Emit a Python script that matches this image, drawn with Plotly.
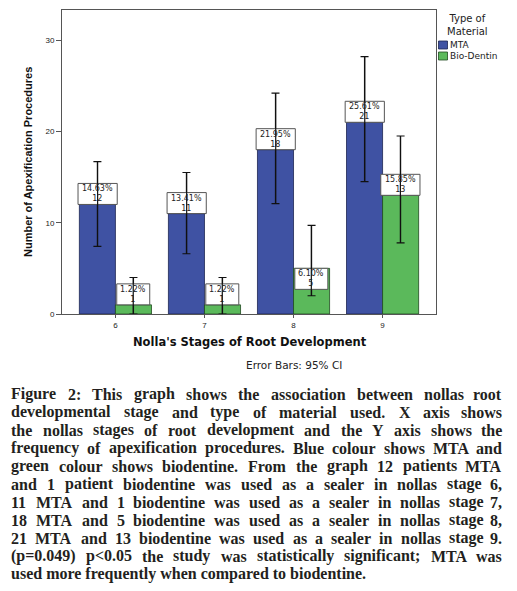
import plotly.graph_objects as go

# ---------------- data ----------------
stages = ["6", "7", "8", "9"]
mta_counts = [12, 11, 18, 21]
bio_counts = [1, 1, 5, 13]
mta_pct = ["14.63%", "13.41%", "21.95%", "25.61%"]
bio_pct = ["1.22%", "1.22%", "6.10%", "15.85%"]
mta_ci_low = [7.4, 6.6, 12.1, 14.5]
mta_ci_high = [16.7, 15.5, 24.2, 28.2]
bio_ci_low = [0.0, 0.0, 2.0, 7.8]
bio_ci_high = [4.0, 4.0, 9.7, 19.5]
y_ticks = [0, 10, 20, 30]

caption_lines = [
    "Figure 2: This graph shows the association between nollas root",
    "developmental stage and type of material used. X axis shows",
    "the nollas stages of root development and the Y axis shows the",
    "frequency of apexification procedures. Blue colour shows MTA and",
    "green colour shows biodentine. From the graph 12 patients MTA",
    "and 1 patient biodentine was used as a sealer in nollas stage 6,",
    "11 MTA and 1 biodentine was used as a sealer in nollas stage 7,",
    "18 MTA and 5 biodentine was used as a sealer in nollas stage 8,",
    "21 MTA and 13 biodentine was used as a sealer in nollas stage 9.",
    "(p=0.049) p<0.05 the study was statistically significant; MTA was",
    "used more frequently when compared to biodentine.",
]

# ---------------- geometry (page pixels; page body has an 8px margin) ----------------
OFF = 8
W, H = 517 - 2 * OFF, 591 - 2 * OFF
PL, PR, PT, PB = 62, 436, 10, 314          # plot box in page pixels
L, R, T, B = PL - OFF, PR - OFF, PT - OFF, PB - OFF

BLUE = "#3F52A3"
GREEN = "#5BB95B"
SANS = "Liberation Sans, Arial, sans-serif"
WIDE = "DejaVu Sans, sans-serif"
SERIF = "Liberation Serif, Times New Roman, serif"


def px(x):  # page x -> paper
    return (x - PL) / (PR - PL)


def py(y):  # page y -> paper
    return (PB - y) / (PB - PT)


fig = go.Figure()
fig.add_bar(
    x=stages, y=mta_counts, name="MTA",
    marker=dict(color=BLUE, line=dict(color="#1c2450", width=0.8)),
    error_y=dict(type="data", symmetric=False,
                 array=[h - v for h, v in zip(mta_ci_high, mta_counts)],
                 arrayminus=[v - l for l, v in zip(mta_ci_low, mta_counts)],
                 color="#111", thickness=1.2, width=4),
)
fig.add_bar(
    x=stages, y=bio_counts, name="Bio-Dentin",
    marker=dict(color=GREEN, line=dict(color="#1f4a1f", width=0.8)),
    error_y=dict(type="data", symmetric=False,
                 array=[h - v for h, v in zip(bio_ci_high, bio_counts)],
                 arrayminus=[v - l for l, v in zip(bio_ci_low, bio_counts)],
                 color="#111", thickness=1.2, width=4),
)

annotations = []
shapes = []
LBL_FONT = dict(family=WIDE, size=8, color="#222")


def add_label(xpos, val, pct, lo, hi, down=False):
    half = 3.1 * len(pct) + 1
    if down:
        y0, y1, s = -21, 0, -10.5
    else:
        y0, y1, s = 0, 21, 10.5
    shapes.append(dict(type="rect", xref="x", yref="y", xsizemode="pixel", ysizemode="pixel",
                       xanchor=xpos, yanchor=val, x0=-half, x1=half, y0=y0, y1=y1,
                       fillcolor="white", line=dict(color="#555", width=1)))
    # error bar line stays visible through the label box
    shapes.append(dict(type="line", xref="x", yref="y", x0=xpos, x1=xpos, y0=lo, y1=hi,
                       line=dict(color="#111", width=1.2)))
    annotations.append(dict(x=xpos, y=val, xref="x", yref="y", xanchor="center", yanchor="middle",
                            yshift=s, text=f"{pct}<br>{val}", showarrow=False, font=LBL_FONT))


for i, (c, p) in enumerate(zip(mta_counts, mta_pct)):
    add_label(i - 0.2, c, p, mta_ci_low[i], mta_ci_high[i])
for i, (c, p) in enumerate(zip(bio_counts, bio_pct)):
    add_label(i + 0.2, c, p, bio_ci_low[i], bio_ci_high[i], down=(i == 2))


def note(x, y, text, font, xanchor="center", angle=0):
    annotations.append(dict(x=px(x), y=py(y), xref="paper", yref="paper", xanchor=xanchor,
                            yanchor="middle", text=text, textangle=angle, showarrow=False,
                            font=font))


note(28, 162, "<b>Number of Apexification Procedures</b>", dict(family=SANS, size=11, color="#111"),
     angle=-90)
note(250, 342, "<b>Nolla's Stages of Root Development</b>", dict(family=WIDE, size=11.5, color="#111"))
note(294, 365, "Error Bars: 95% CI", dict(family=WIDE, size=10.5, color="#222"))

# legend (drawn manually)
note(467.5, 25, "Type of<br>Material", dict(family=WIDE, size=10, color="#222"))
note(449, 45, "MTA", dict(family=WIDE, size=9, color="#222"), xanchor="left")
note(449, 56, "Bio-Dentin", dict(family=WIDE, size=9, color="#222"), xanchor="left")
shapes.append(dict(type="rect", xref="paper", yref="paper", x0=px(438.5), x1=px(447.5),
                   y0=py(49), y1=py(41), fillcolor=BLUE, line=dict(color="#1c2450", width=0.8)))
shapes.append(dict(type="rect", xref="paper", yref="paper", x0=px(438.5), x1=px(447.5),
                   y0=py(60), y1=py(52), fillcolor=GREEN, line=dict(color="#1f4a1f", width=0.8)))

# caption, justified using Times-Bold-like metrics
TB = {" ": 250, "%": 1000, "(": 333, ")": 333, ",": 250, ".": 250, ":": 333, ";": 333,
      "<": 570, "=": 570, "'": 278,
      "A": 722, "B": 667, "F": 611, "M": 944, "T": 667, "X": 722, "Y": 722,
      "a": 500, "b": 556, "c": 444, "d": 556, "e": 444, "f": 333, "g": 500, "h": 556,
      "i": 278, "j": 333, "k": 556, "l": 278, "m": 833, "n": 556, "o": 500, "p": 556,
      "q": 556, "r": 444, "s": 389, "t": 333, "u": 556, "v": 500, "w": 722, "x": 500,
      "y": 500, "z": 444}
CAP_SIZE = 16
CAP_LEFT, CAP_RIGHT = 10, 503
CAP_FONT = dict(family=SERIF, size=CAP_SIZE, color="#231f20")


def wwidth(word):
    return sum(TB.get(ch, 500) for ch in word) * CAP_SIZE / 1000.0


for li, line in enumerate(caption_lines):
    yc = 394 + 18 * li
    if li == len(caption_lines) - 1:
        note(CAP_LEFT, yc, f"<b>{line}</b>", CAP_FONT, xanchor="left")
        continue
    words = line.split(" ")
    widths = [wwidth(w) for w in words]
    gap = (CAP_RIGHT - CAP_LEFT - sum(widths)) / (len(words) - 1)
    xcur = CAP_LEFT
    for wi, (w, ww) in enumerate(zip(words, widths)):
        if wi == len(words) - 1:
            note(CAP_RIGHT, yc, f"<b>{w}</b>", CAP_FONT, xanchor="right")
        else:
            note(xcur, yc, f"<b>{w}</b>", CAP_FONT, xanchor="left")
        xcur += ww + gap

for a in annotations:
    a.setdefault("borderpad", 0)

fig.update_layout(
    width=W, height=H,
    margin=dict(l=L, r=W - R, t=T, b=H - B, pad=0, autoexpand=False),
    paper_bgcolor="white", plot_bgcolor="white",
    barmode="group", bargap=0.19, bargroupgap=0,
    showlegend=False,
    annotations=annotations, shapes=shapes,
    xaxis=dict(type="category", range=[-0.6, 3.6], showline=True, mirror=True,
               linecolor="#555", linewidth=1, ticks="outside", ticklen=3,
               tickcolor="#555", showgrid=False,
               tickfont=dict(family=SANS, size=8, color="#222")),
    yaxis=dict(range=[0, 33.3], tickvals=y_ticks, showline=True, mirror=True,
               linecolor="#555", linewidth=1, ticks="outside", ticklen=5,
               tickcolor="#555", showgrid=False, zeroline=False,
               tickfont=dict(family=SANS, size=8, color="#222")),
)

fig.write_html("out.html")
